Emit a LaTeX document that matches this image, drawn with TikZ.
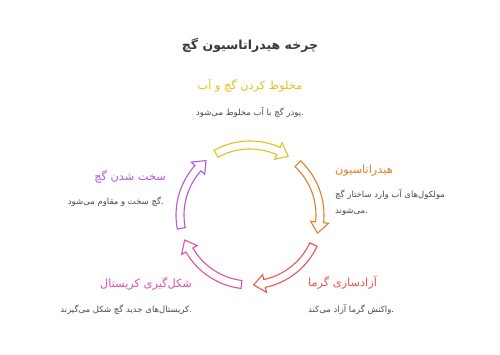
\documentclass[tikz,border=0pt]{standalone}
\usepackage{fontspec}
\TeXXeTstate=1
\newfontfamily\fa[Script=Arabic]{DejaVu Sans}
\definecolor{cyel}{HTML}{E2C11C}
\definecolor{cora}{HTML}{E37D2A}
\definecolor{cred}{HTML}{E85553}
\definecolor{cpnk}{HTML}{DE52A4}
\definecolor{cpur}{HTML}{B258DE}
\definecolor{ctitle}{HTML}{3A3A3A}
\definecolor{cdesc}{HTML}{4A4A4A}
\newcommand\cycarrow[3]{%
  \draw[#1, line width=1.1pt, fill=white, line join=miter]
    (#2:74) arc[start angle=#2, end angle=#3+9, radius=74]
    -- (#3+9:79) -- (#3:70) -- (#3+9:61) -- (#3+9:66)
    arc[start angle=#3+9, end angle=#2, radius=66] -- cycle;}
\tikzset{
  head/.style={font=\fa\fontsize{11.3}{13}\selectfont, inner sep=0pt},
  desc/.style={font=\fa\fontsize{8.5}{16}\selectfont, text=cdesc, inner sep=0pt},
}
\begin{document}
\begin{tikzpicture}[x=1pt,y=1pt]
\useasboundingbox (0,0) rectangle (500,355);
\fill[white] (0,0) rectangle (500,355);
\node[font=\fa\bfseries\fontsize{12.5}{14}\selectfont, text=ctitle, inner sep=0pt] (title) at (250,310) {\beginR چرخه هیدراتاسیون گچ\endR};
\begin{scope}[shift={(250,140)}]
\cycarrow{cyel}{119}{57}
\cycarrow{cora}{47}{-15}
\cycarrow{cred}{-25}{-87}
\cycarrow{cpnk}{-97}{-159}
\cycarrow{cpur}{-169}{-231}
\end{scope}
\node[head, text=cyel] (h1) at (250,269) {\beginR مخلوط کردن گچ و آب\endR};
\node[desc] (d1) at (250,242) {\beginR پودر گچ با آب مخلوط می‌شود\endR.};
\node[head, text=cora, anchor=west] (h2) at (335,184) {\beginR هیدراتاسیون\endR};
\node[desc, anchor=north west, align=left] (d2) at (335,166) {\beginR مولکول‌های آب وارد ساختار گچ\endR\\\beginR می‌شوند\endR.};
\node[head, text=cred, anchor=west] (h3) at (308,72) {\beginR آزادسازی گرما\endR};
\node[desc, anchor=west] (d3) at (308,45) {\beginR واکنش گرما آزاد می‌کند\endR.};
\node[head, text=cpnk, anchor=east] (h4) at (192,71) {\beginR شکل‌گیری کریستال\endR};
\node[desc, anchor=east] (d4) at (192,45) {\beginR کریستال‌های جدید گچ شکل می‌گیرند\endR.};
\node[head, text=cpur, anchor=east] (h5) at (166,178) {\beginR سخت شدن گچ\endR};
\node[desc, anchor=east] (d5) at (164,153) {\beginR گچ سخت و مقاوم می‌شود\endR.};
\end{tikzpicture}
\end{document}
